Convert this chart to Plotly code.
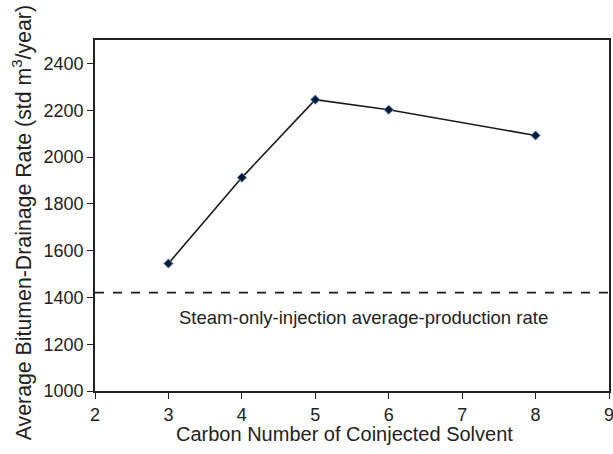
import plotly.graph_objects as go

carbon_number = [3, 4, 5, 6, 8]
drainage_rate = [1545, 1912, 2245, 2202, 2092]
steam_only_rate = 1420
annotation_text = "Steam-only-injection average-production rate"
y_ticks = [1000, 1200, 1400, 1600, 1800, 2000, 2200, 2400]
x_title = "Carbon Number of Coinjected Solvent"
y_title = "Average Bitumen-Drainage Rate (std m<sup>3</sup>/year)"

fig = go.Figure()
fig.add_trace(go.Scatter(
    x=carbon_number, y=drainage_rate, mode="lines+markers",
    line=dict(color="#1a1a1a", width=1.6),
    marker=dict(symbol="diamond", size=7, color="#0d1a33",
                line=dict(color="#4a7fc0", width=1)),
    showlegend=False, hoverinfo="skip",
))
fig.add_shape(type="line", xref="paper", x0=0, x1=1, yref="y",
              y0=steam_only_rate, y1=steam_only_rate,
              line=dict(color="#1a1a1a", width=1.8, dash="dash"))
fig.add_annotation(x=5.66, y=1313, xref="x", yref="y", text=annotation_text,
                   showarrow=False, font=dict(size=18.5, color="#222"))
# axis titles as annotations for precise placement
fig.add_annotation(x=-0.142, y=0.478, xref="paper", yref="paper", text=y_title,
                   textangle=-90, showarrow=False, xanchor="center", yanchor="middle",
                   font=dict(size=21.3, color="#222"))
fig.add_annotation(x=0.485, y=-0.122, xref="paper", yref="paper", text=x_title,
                   showarrow=False, xanchor="center", yanchor="middle",
                   font=dict(size=20, color="#222"))

axis_common = dict(showline=True, linecolor="#222", linewidth=1.8, mirror=True,
                   ticks="outside", ticklen=6, tickcolor="#222", tickwidth=1.3,
                   showgrid=False, zeroline=False, automargin=False,
                   ticklabeloverflow="allow",
                   tickfont=dict(size=18, color="#222"))
fig.update_xaxes(range=[2, 9], tickvals=[2, 3, 4, 5, 6, 7, 8, 9], **axis_common)
fig.update_yaxes(range=[1000, 2500], tickvals=y_ticks, **axis_common)
fig.update_layout(width=613, height=454, margin=dict(l=95, r=4, t=40, b=63),
                  plot_bgcolor="white", paper_bgcolor="white",
                  font=dict(family="Liberation Sans, Arial, sans-serif", color="#222"))
fig.write_html("out.html")
